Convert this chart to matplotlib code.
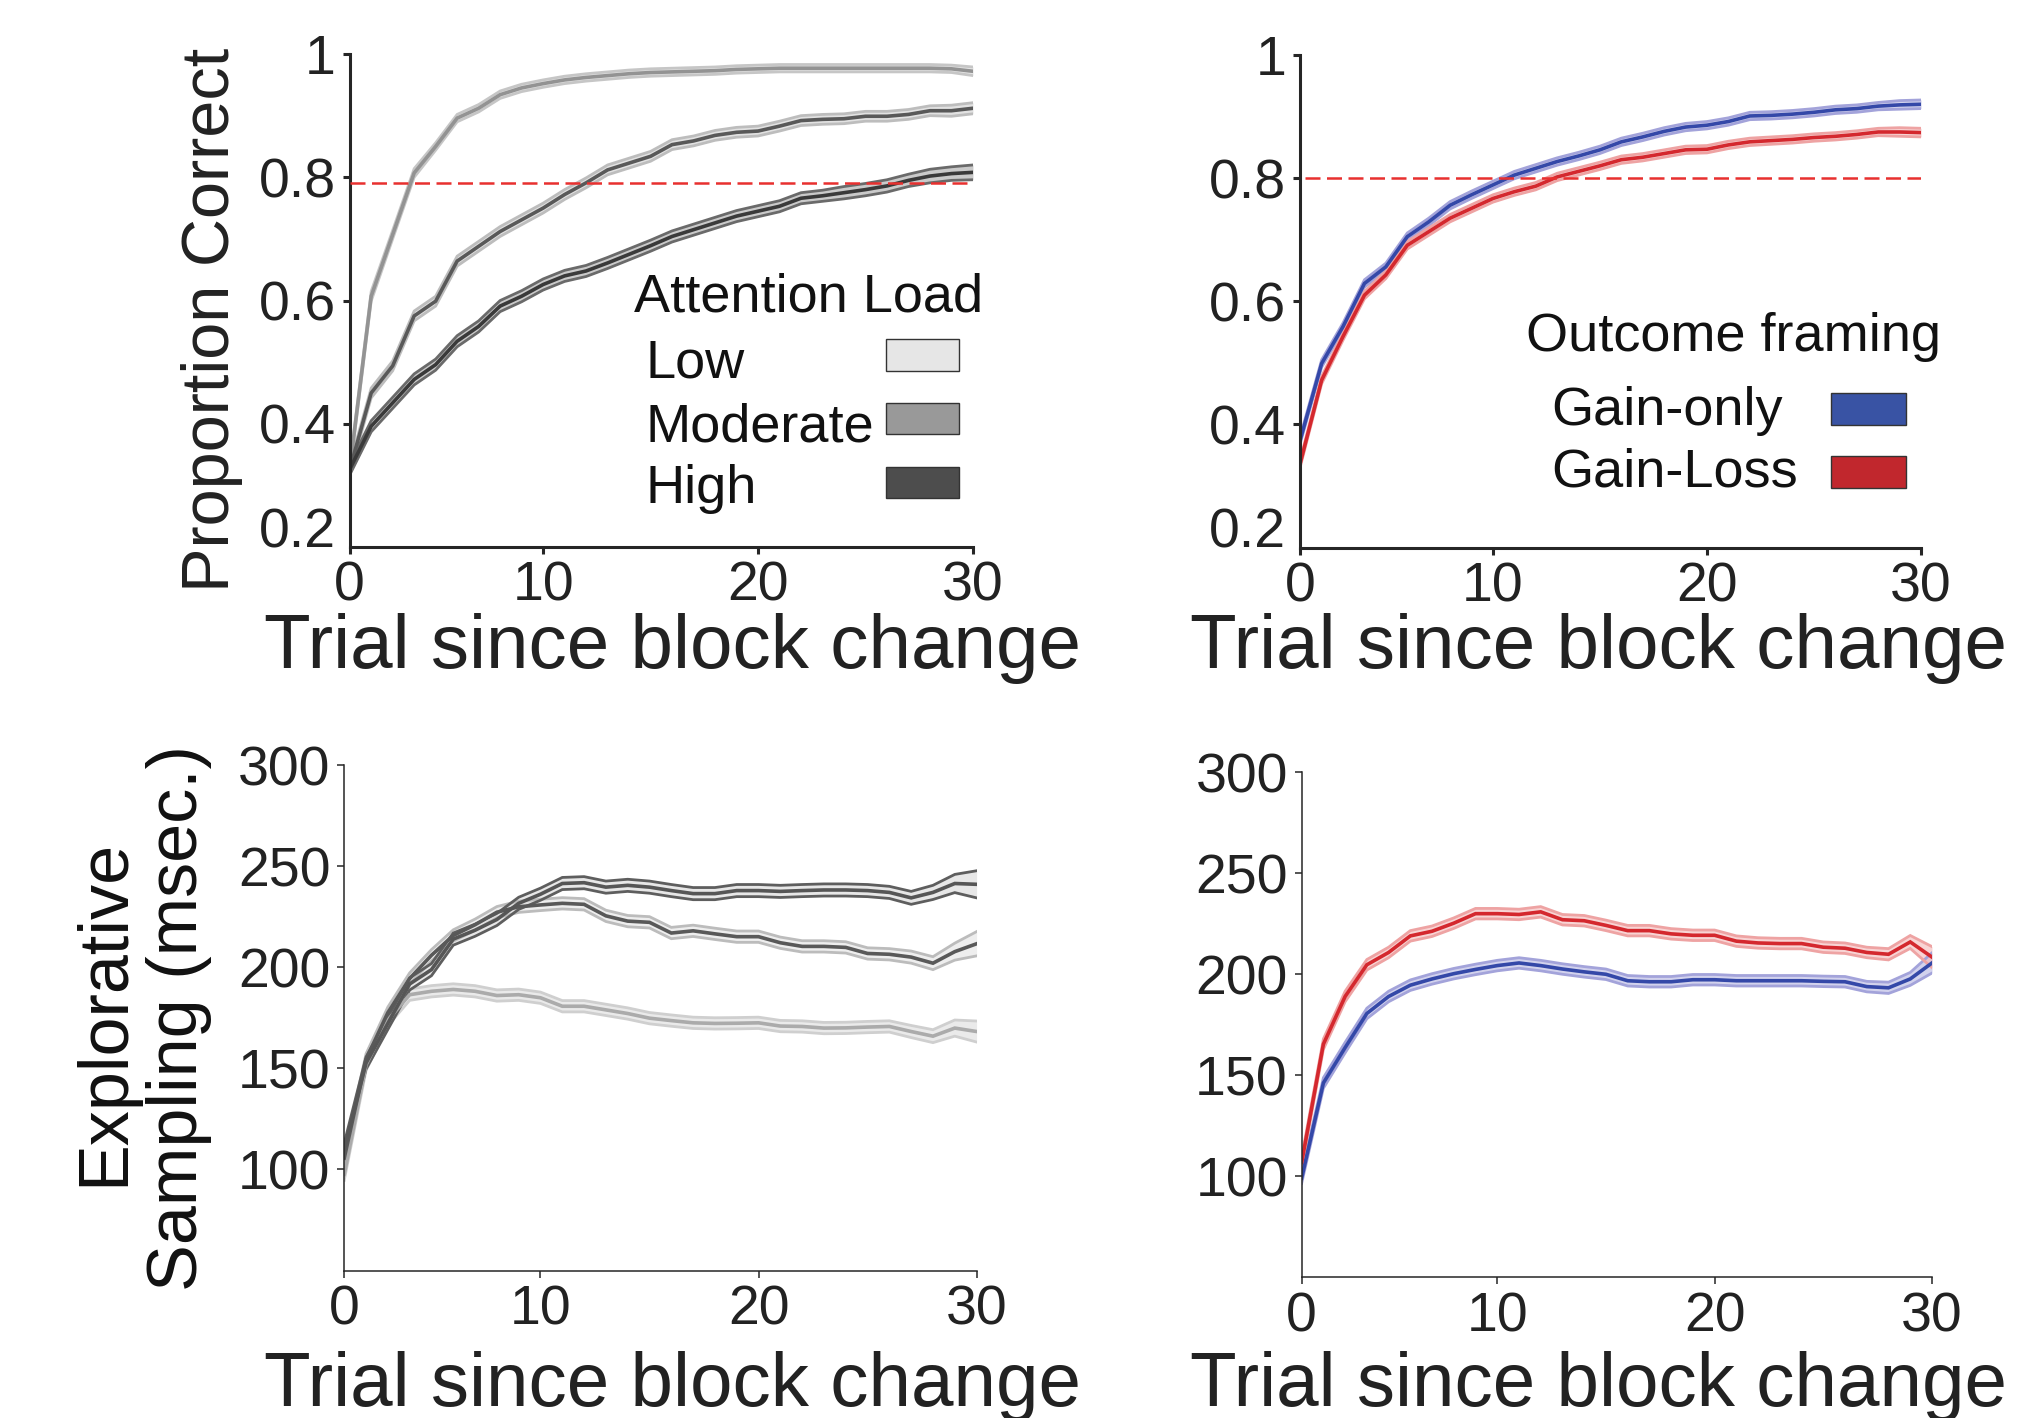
import matplotlib
matplotlib.use("Agg")
import matplotlib.pyplot as plt
from matplotlib.patches import Rectangle
import numpy as np

plt.rcParams['font.family'] = ['Liberation Sans', 'DejaVu Sans']

# ---------------- data ----------------
trials = list(range(1, 31))
x_ticks = [1, 10, 20, 30]
x_ticklabels = ['0', '10', '20', '30']

acc_yticks = [0.2, 0.4, 0.6, 0.8, 1.0]
acc_yticklabels = ['0.2', '0.4', '0.6', '0.8', '1']
samp_yticks = [100, 150, 200, 250, 300]
samp_yticklabels = ['100', '150', '200', '250', '300']

load_names = ['Low', 'Moderate', 'High']
framing_names = ['Gain-only', 'Gain-Loss']

criterion_left = 0.79
criterion_right = 0.80

acc_low = [0.326, 0.607, 0.707, 0.807, 0.850, 0.896, 0.912, 0.934, 0.945, 0.952,
           0.958, 0.962, 0.965, 0.968, 0.970, 0.971, 0.972, 0.973, 0.975, 0.976,
           0.977, 0.977, 0.977, 0.977, 0.977, 0.977, 0.977, 0.977, 0.976, 0.972]
acc_low_sem = [0.007, 0.008, 0.007, 0.007, 0.006, 0.006, 0.006, 0.006, 0.006, 0.006,
               0.006, 0.006, 0.006, 0.006, 0.006, 0.006, 0.006, 0.006, 0.006, 0.006,
               0.006, 0.006, 0.006, 0.006, 0.006, 0.006, 0.006, 0.006, 0.006, 0.007]
acc_mod = [0.326, 0.450, 0.494, 0.575, 0.599, 0.664, 0.688, 0.712, 0.731, 0.750,
           0.772, 0.791, 0.812, 0.823, 0.834, 0.853, 0.859, 0.868, 0.873, 0.875,
           0.883, 0.892, 0.894, 0.895, 0.899, 0.899, 0.902, 0.908, 0.908, 0.912]
acc_mod_sem = [0.008, 0.008, 0.008, 0.008, 0.008, 0.008, 0.008, 0.008, 0.008, 0.008,
               0.008, 0.008, 0.008, 0.008, 0.008, 0.008, 0.008, 0.008, 0.008, 0.008,
               0.008, 0.008, 0.008, 0.008, 0.008, 0.008, 0.008, 0.008, 0.009, 0.009]
acc_high = [0.326, 0.396, 0.434, 0.472, 0.496, 0.534, 0.558, 0.591, 0.607, 0.626,
            0.640, 0.648, 0.661, 0.675, 0.689, 0.704, 0.715, 0.726, 0.737, 0.745,
            0.753, 0.766, 0.770, 0.775, 0.780, 0.786, 0.795, 0.802, 0.806, 0.808]
acc_high_sem = [0.009, 0.009, 0.009, 0.009, 0.009, 0.009, 0.009, 0.009, 0.009, 0.009,
                0.009, 0.009, 0.009, 0.009, 0.009, 0.009, 0.009, 0.009, 0.009, 0.009,
                0.009, 0.009, 0.009, 0.010, 0.010, 0.010, 0.010, 0.011, 0.011, 0.012]

acc_gain_only = [0.375, 0.499, 0.559, 0.629, 0.656, 0.705, 0.729, 0.756, 0.773, 0.789,
                 0.805, 0.816, 0.827, 0.836, 0.846, 0.859, 0.867, 0.876, 0.883, 0.886,
                 0.892, 0.901, 0.902, 0.904, 0.907, 0.911, 0.913, 0.917, 0.919, 0.920]
acc_gain_only_sem = [0.006, 0.006, 0.006, 0.006, 0.006, 0.006, 0.006, 0.006, 0.006, 0.006,
                     0.006, 0.006, 0.006, 0.006, 0.006, 0.006, 0.006, 0.006, 0.006, 0.006,
                     0.006, 0.006, 0.006, 0.006, 0.006, 0.006, 0.006, 0.006, 0.007, 0.007]
acc_gain_loss = [0.337, 0.472, 0.543, 0.610, 0.643, 0.691, 0.713, 0.735, 0.751, 0.767,
                 0.778, 0.787, 0.802, 0.811, 0.820, 0.830, 0.834, 0.840, 0.846, 0.847,
                 0.854, 0.859, 0.861, 0.863, 0.866, 0.868, 0.871, 0.875, 0.875, 0.874]
acc_gain_loss_sem = [0.006, 0.006, 0.006, 0.006, 0.006, 0.006, 0.006, 0.006, 0.006, 0.006,
                     0.006, 0.006, 0.006, 0.006, 0.006, 0.006, 0.006, 0.006, 0.006, 0.006,
                     0.006, 0.006, 0.006, 0.006, 0.006, 0.006, 0.006, 0.006, 0.007, 0.007]

samp_low = [97.6, 151.7, 173.9, 186.4, 188.1, 189.0, 188.1, 186.0, 186.4, 184.9,
            180.7, 180.7, 178.9, 177.1, 174.8, 173.6, 172.5, 172.2, 172.3, 172.5,
            170.9, 170.7, 169.9, 170.0, 170.4, 170.7, 168.2, 165.9, 169.9, 168.2]
samp_low_sem = [3.0, 2.8, 2.8, 2.8, 2.8, 2.8, 2.8, 2.8, 2.8, 2.8,
                2.8, 2.8, 2.8, 2.8, 2.8, 2.8, 2.8, 2.8, 2.8, 2.8,
                2.8, 2.8, 2.8, 2.8, 2.8, 2.8, 3.0, 3.2, 4.0, 5.2]
samp_mod = [105.6, 154.4, 177.5, 194.4, 205.9, 215.7, 221.0, 227.2, 229.9, 230.8,
            231.6, 231.1, 225.4, 222.8, 222.2, 216.9, 218.0, 216.5, 215.1, 215.1,
            212.1, 210.3, 210.3, 209.8, 206.8, 206.4, 205.0, 202.0, 207.7, 211.6]
samp_mod_sem = [2.8, 2.8, 2.8, 2.8, 2.8, 2.8, 2.8, 2.8, 2.8, 2.8,
                2.8, 2.8, 2.8, 2.8, 2.8, 2.8, 2.8, 2.8, 2.8, 2.8,
                2.8, 2.8, 2.8, 2.8, 2.8, 2.8, 3.0, 3.2, 4.2, 6.0]
samp_high = [110.0, 152.6, 172.2, 191.7, 198.8, 213.9, 218.3, 223.6, 231.6, 236.1,
             241.4, 241.8, 239.6, 240.5, 239.6, 237.9, 236.4, 236.4, 237.9, 237.9,
             237.5, 237.9, 238.2, 238.2, 237.9, 237.0, 234.3, 237.0, 241.4, 241.0]
samp_high_sem = [3.0, 3.0, 3.0, 3.0, 3.0, 3.0, 3.0, 3.0, 3.0, 3.0,
                 3.0, 3.0, 3.0, 3.0, 3.0, 3.0, 3.0, 3.0, 3.0, 3.0,
                 3.0, 3.0, 3.0, 3.0, 3.0, 3.0, 3.2, 3.5, 4.5, 6.7]

samp_gain_only = [99.1, 146.2, 163.7, 180.6, 189.0, 194.6, 197.7, 200.3, 202.4, 204.3,
                  205.6, 204.3, 202.6, 201.2, 200.0, 196.8, 196.3, 196.3, 197.3, 197.3,
                  196.8, 196.8, 196.8, 196.8, 196.5, 196.3, 193.9, 193.3, 197.7, 205.6]
samp_gain_only_sem = [2.6, 2.6, 2.6, 2.6, 2.6, 2.6, 2.6, 2.6, 2.6, 2.6,
                      2.6, 2.6, 2.6, 2.6, 2.6, 2.6, 2.6, 2.6, 2.6, 2.6,
                      2.6, 2.6, 2.6, 2.6, 2.6, 2.6, 2.6, 2.8, 3.2, 5.0]
samp_gain_loss = [106.9, 165.4, 189.0, 204.7, 210.8, 219.0, 221.3, 225.3, 230.0, 230.0,
                  229.6, 230.9, 227.0, 226.5, 224.2, 221.6, 221.6, 220.0, 219.3, 219.3,
                  216.4, 215.5, 215.2, 215.2, 213.4, 212.9, 210.8, 209.9, 216.0, 208.5]
samp_gain_loss_sem = [2.6, 2.6, 2.6, 2.6, 2.6, 2.6, 2.6, 2.6, 2.6, 2.6,
                      2.6, 2.6, 2.6, 2.6, 2.6, 2.6, 2.6, 2.6, 2.6, 2.6,
                      2.6, 2.6, 2.6, 2.6, 2.6, 2.6, 2.6, 2.8, 3.2, 5.2]

# ---------------- styles ----------------
W, H = 2019, 1418
fig = plt.figure(figsize=(W / 100, H / 100), dpi=100)

TXT = '#222222'
SPINE = '#262626'


def fx(px):
    return px / W


def fy(py):
    return 1 - py / H


def band(ax, m, s, line_c, edge_c, fill_c, fill_a=0.6, lw=2.6, elw=2.0, z=2):
    m = np.asarray(m, float)
    s = np.asarray(s, float)
    ax.fill_between(trials, m - s, m + s, color=fill_c, alpha=fill_a, lw=0, zorder=z)
    ax.plot(trials, m - s, color=edge_c, lw=elw, zorder=z + 0.1, solid_joinstyle='miter')
    ax.plot(trials, m + s, color=edge_c, lw=elw, zorder=z + 0.1, solid_joinstyle='miter')
    ax.plot(trials, m, color=line_c, lw=lw, zorder=z + 0.2, solid_joinstyle='miter')


def style_axes(ax, spine_lw, yticks, yticklabels, ylim):
    for side in ['top', 'right']:
        ax.spines[side].set_visible(False)
    for side in ['left', 'bottom']:
        ax.spines[side].set_linewidth(spine_lw)
        ax.spines[side].set_color(SPINE)
    ax.set_xlim(1, 30)
    ax.set_ylim(*ylim)
    ax.set_xticks(x_ticks)
    ax.set_xticklabels(x_ticklabels)
    ax.set_yticks(yticks)
    ax.set_yticklabels(yticklabels)
    ax.tick_params(axis='both', direction='out', length=5, width=spine_lw,
                   color=SPINE, labelsize=40, labelcolor=TXT, pad=5)
    ax.patch.set_alpha(0)


# axes rectangles
ax_tl = fig.add_axes([0.1732, 0.6142, 0.3087, 0.3477])
ax_tr = fig.add_axes([0.6440, 0.6138, 0.3075, 0.3474])
ax_bl = fig.add_axes([0.1705, 0.1040, 0.3132, 0.3565])
ax_br = fig.add_axes([0.6447, 0.0992, 0.3122, 0.3562])

style_axes(ax_tl, 2.2, acc_yticks, acc_yticklabels, (0.2, 1.0))
style_axes(ax_tr, 2.2, acc_yticks, acc_yticklabels, (0.2, 1.0))
style_axes(ax_bl, 1.1, samp_yticks, samp_yticklabels, (50, 300))
style_axes(ax_br, 1.1, samp_yticks, samp_yticklabels, (50, 300))

# lowest accuracy label sits just above the x axis in the reference
for ax in (ax_tl, ax_tr):
    ax.get_yticklabels()[0].set_verticalalignment('baseline')
    ax.yaxis.get_major_ticks()[0].tick1line.set_visible(False)

# ---- top left: attention load accuracy ----
band(ax_tl, acc_low, acc_low_sem, '#939393', '#c6c6c6', '#d6d6d6')
band(ax_tl, acc_mod, acc_mod_sem, '#595959', '#bdbdbd', '#d0d0d0')
band(ax_tl, acc_high, acc_high_sem, '#3a3a3a', '#6a6a6a', '#a8a8a8')
ax_tl.plot([1, 30], [criterion_left, criterion_left], color='#e8302f', lw=1.8,
           linestyle=(0, (6, 2.6)), zorder=5)

# ---- top right: framing accuracy ----
band(ax_tr, acc_gain_only, acc_gain_only_sem, '#3448a8', '#a3a3da', '#b5b5e2')
band(ax_tr, acc_gain_loss, acc_gain_loss_sem, '#d4282e', '#eea3a3', '#f4b8b8')
ax_tr.plot([1.2, 30], [criterion_right, criterion_right], color='#e8302f', lw=1.8,
           linestyle=(0, (6, 2.6)), zorder=5)

# ---- bottom left: attention load sampling ----
band(ax_bl, samp_low, samp_low_sem, '#ababab', '#cfcfcf', '#dcdcdc')
band(ax_bl, samp_mod, samp_mod_sem, '#595959', '#bcbcbc', '#e4e4e4')
band(ax_bl, samp_high, samp_high_sem, '#565656', '#5e5e5e', '#d8d8d8')

# ---- bottom right: framing sampling ----
band(ax_br, samp_gain_only, samp_gain_only_sem, '#3448a8', '#a3a3da', '#b5b5e2')
band(ax_br, samp_gain_loss, samp_gain_loss_sem, '#d4282e', '#eea3a3', '#f4b8b8')

# ---------------- axis labels ----------------
xl = 'Trial since block change'
for cx, by in [(672, 668), (1599, 668), (672, 1406), (1599, 1406)]:
    fig.text(fx(cx), fy(by), xl, fontsize=55, color=TXT, ha='center', va='baseline')

fig.text(fx(229), fy(320), 'Proportion Correct', fontsize=48, color=TXT,
         rotation=90, rotation_mode='anchor', ha='center', va='baseline')
fig.text(fx(123), fy(1012), 'Explorative', fontsize=50.5, color='#111111',
         rotation=90, rotation_mode='anchor', ha='center', va='baseline')
fig.text(fx(197), fy(1018), 'Sampling (msec.)', fontsize=50.5, color='#111111',
         rotation=90, rotation_mode='anchor', ha='center', va='baseline')

# ---------------- legends ----------------
def legend_patch(x0, y0, x1, y1, color):
    r = Rectangle((fx(x0), fy(y1)), fx(x1) - fx(x0), fy(y0) - fy(y1),
                  transform=fig.transFigure, facecolor=color, edgecolor='#333333',
                  lw=1.0, zorder=10)
    fig.add_artist(r)


fig.text(fx(634), fy(312), 'Attention Load', fontsize=39, color='#111111',
         ha='left', va='baseline')
load_colors = ['#e6e6e6', '#999999', '#4d4d4d']
load_baselines = [378, 441.7, 503]
load_boxes = [(339, 371), (403, 434), (467, 498)]
for name, col, bl, (y0, y1) in zip(load_names, load_colors, load_baselines, load_boxes):
    fig.text(fx(646), fy(bl), name, fontsize=39, color='#111111', ha='left', va='baseline')
    legend_patch(886, y0, 959, y1, col)

fig.text(fx(1526), fy(350.7), 'Outcome framing', fontsize=39, color='#111111',
         ha='left', va='baseline')
framing_colors = ['#3953a4', '#c1272d']
framing_baselines = [425, 486.7]
framing_boxes = [(393, 425), (456, 488)]
for name, col, bl, (y0, y1) in zip(framing_names, framing_colors, framing_baselines, framing_boxes):
    fig.text(fx(1551), fy(bl), name, fontsize=39, color='#111111', ha='left', va='baseline')
    legend_patch(1831, y0, 1906, y1, col)

fig.savefig('out.png', dpi=100)
